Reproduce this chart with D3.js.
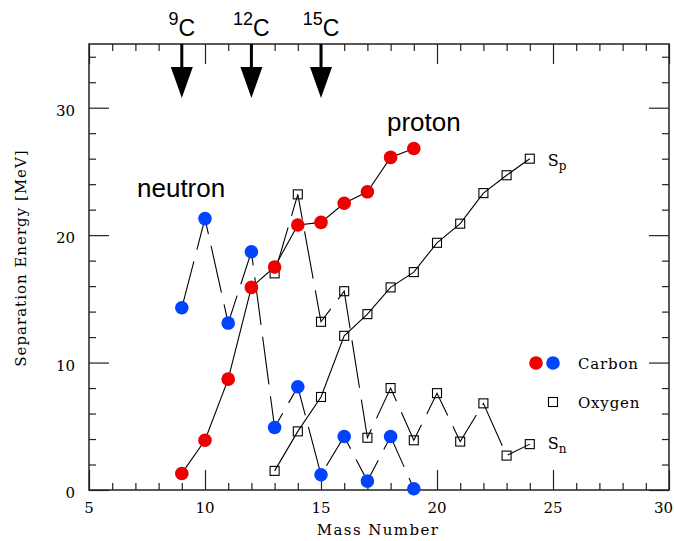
<!DOCTYPE html>
<html lang="en">
<head>
<meta charset="utf-8">
<title>Separation Energy</title>
<script src="https://d3js.org/d3.v7.min.js"></script>
<style>
  body { margin: 0; background: #fff; }
  .serif { font-family: "DejaVu Serif", serif; }
  .sans { font-family: "Liberation Sans", Arial, sans-serif; }
</style>
</head>
<body>
<script>
// data
var carbonMass = [9, 10, 11, 12, 13, 14, 15, 16, 17, 18, 19];
var carbonSp   = [1.3, 3.9, 8.7, 15.9, 17.5, 20.8, 21.0, 22.5, 23.4, 26.1, 26.8];
var carbonSn   = [14.3, 21.3, 13.1, 18.7, 4.9, 8.1, 1.2, 4.2, 0.7, 4.2, 0.1];

var oxygenMass = [13, 14, 15, 16, 17, 18, 19, 20, 21, 22, 23, 24];
var oxygenSp   = [1.5, 4.6, 7.3, 12.1, 13.8, 15.9, 17.1, 19.4, 20.9, 23.3, 24.7, 26.0];
var oxygenSn   = [17.0, 23.2, 13.2, 15.6, 4.1, 8.0, 3.9, 7.6, 3.8, 6.8, 2.7, 3.6];

var arrowMass  = [9, 12, 15];
var arrowLabel = ["9", "12", "15"];

var xMajor = [5, 10, 15, 20, 25, 30];
var yMajor = [0, 10, 20, 30];

var w = 674, h = 541;
// plot frame (window.top is read-only, so no bare "top")
var pL = 89, pR = 669, pT = 44, pB = 490;
var red = "#ee0000", blue = "#0044ff", ink = "#222";

var svg = d3.select("body").append("svg")
    .attr("width", w).attr("height", h);

var x = d3.scaleLinear().domain([5, 30]).range([pL, pR]);
var y = d3.scaleLinear().domain([0, 35]).range([pB, pT]);

var xMinor = d3.range(5, 31, 1).filter(function(d){ return d % 5 !== 0; });
var yMinor = d3.range(0, 36, 2).filter(function(d){ return d % 10 !== 0; });

// ticks, all pointing inward
function ticks(axis, tr, major, minor) {
    var g1 = svg.append("g").attr("transform", tr)
        .call(axis.tickValues(major).tickSize(-20).tickFormat(""));
    var g2 = svg.append("g").attr("transform", tr)
        .call(axis.tickValues(minor).tickSize(-7).tickFormat(""));
    [g1, g2].forEach(function(g){
        g.select(".domain").remove();
        g.selectAll("line").attr("stroke", ink).attr("stroke-width", 1.2);
    });
}
ticks(d3.axisBottom(x), "translate(0," + pB + ")", xMajor, xMinor);
ticks(d3.axisTop(x), "translate(0," + pT + ")", xMajor, xMinor);
ticks(d3.axisLeft(y), "translate(" + pL + ",0)", yMajor, yMinor);
ticks(d3.axisRight(y), "translate(" + pR + ",0)", yMajor, yMinor);

svg.append("rect")
    .attr("x", pL).attr("y", pT)
    .attr("width", pR - pL).attr("height", pB - pT)
    .attr("fill", "none").attr("stroke", ink).attr("stroke-width", 1.5);

// tick labels
svg.selectAll(".xl").data(xMajor).enter().append("text")
    .attr("class", "serif")
    .attr("x", function(d){ return d === 30 ? x(d) + 4 : x(d); })
    .attr("y", pB + 23)
    .attr("text-anchor", function(d){ return d === 30 ? "end" : "middle"; })
    .style("font-size", "15px")
    .text(function(d){ return d; });

svg.selectAll(".yl").data(yMajor).enter().append("text")
    .attr("class", "serif")
    .attr("x", pL - 14)
    .attr("y", function(d){ return y(d); })
    .attr("dy", "0.55em")
    .attr("text-anchor", "end")
    .style("font-size", "15px")
    .text(function(d){ return d; });

svg.append("text").attr("class", "serif")
    .attr("x", (pL + pR) / 2 - 1).attr("y", 535)
    .attr("text-anchor", "middle")
    .style("font-size", "15px").style("letter-spacing", "1.4px")
    .text("Mass Number");

svg.append("text").attr("class", "serif")
    .attr("transform", "translate(26,258) rotate(-90)")
    .attr("text-anchor", "middle")
    .style("font-size", "15px").style("letter-spacing", "1px")
    .text("Separation Energy [MeV]");

// lines
function pts(mass, vals) {
    return mass.map(function(m, i){ return [m, vals[i]]; });
}
var line = d3.line()
    .x(function(d){ return x(d[0]); })
    .y(function(d){ return y(d[1]); });

var series = [
    { p: pts(oxygenMass, oxygenSp), dash: null },
    { p: pts(oxygenMass, oxygenSn), dash: "48,12" },
    { p: pts(carbonMass, carbonSn), dash: "48,12" },
    { p: pts(carbonMass, carbonSp), dash: null }
];
svg.selectAll(".ln").data(series).enter().append("path")
    .attr("fill", "none").attr("stroke", "#000").attr("stroke-width", 1.1)
    .attr("stroke-dasharray", function(d){ return d.dash; })
    .attr("d", function(d){ return line(d.p); });

// oxygen squares (hollow)
var oxy = pts(oxygenMass, oxygenSp).concat(pts(oxygenMass, oxygenSn));
svg.selectAll(".sq").data(oxy).enter().append("rect")
    .attr("x", function(d){ return x(d[0]) - 4.5; })
    .attr("y", function(d){ return y(d[1]) - 4.5; })
    .attr("width", 9).attr("height", 9)
    .attr("fill", "none").attr("stroke", "#000").attr("stroke-width", 1.1);

// carbon dots
svg.selectAll(".bd").data(pts(carbonMass, carbonSn)).enter().append("circle")
    .attr("cx", function(d){ return x(d[0]); })
    .attr("cy", function(d){ return y(d[1]); })
    .attr("r", 6.8).attr("fill", blue);
svg.selectAll(".rd").data(pts(carbonMass, carbonSp)).enter().append("circle")
    .attr("cx", function(d){ return x(d[0]); })
    .attr("cy", function(d){ return y(d[1]); })
    .attr("r", 6.8).attr("fill", red);

// S_p and S_n labels next to the last oxygen points
function sLabel(sub, mass, val, dy) {
    var t = svg.append("text").attr("class", "serif")
        .attr("x", x(mass) + 18).attr("y", y(val) + dy)
        .style("font-size", "16px");
    t.append("tspan").text("S");
    t.append("tspan").attr("dy", 4).style("font-size", "12px").text(sub);
}
sLabel("p", oxygenMass[oxygenMass.length - 1], oxygenSp[oxygenSp.length - 1], 7);
sLabel("n", oxygenMass[oxygenMass.length - 1], oxygenSn[oxygenSn.length - 1], 5);

// neutron / proton labels
svg.append("text").attr("class", "sans")
    .attr("x", 137).attr("y", 197).style("font-size", "26px").text("neutron");
svg.append("text").attr("class", "sans")
    .attr("x", 387).attr("y", 131).style("font-size", "26px").text("proton");

// arrows with isotope labels
arrowMass.forEach(function(m, i){
    var ax = x(m);
    svg.append("line")
        .attr("x1", ax).attr("x2", ax).attr("y1", pT).attr("y2", pT + 26)
        .attr("stroke", "#000").attr("stroke-width", 3);
    svg.append("path")
        .attr("d", "M" + (ax - 11) + "," + (pT + 23) + "L" + (ax + 11) + "," + (pT + 23) +
                   "L" + ax + "," + (pT + 54) + "Z")
        .attr("fill", "#000");
    var t = svg.append("text").attr("class", "sans")
        .attr("x", ax).attr("y", 36).attr("text-anchor", "middle");
    t.append("tspan").attr("dy", -11).style("font-size", "18px").text(arrowLabel[i]);
    t.append("tspan").attr("dy", 11).style("font-size", "23px").text("C");
});

// legend
svg.append("circle").attr("cx", 536).attr("cy", 363).attr("r", 6.8).attr("fill", red);
svg.append("circle").attr("cx", 553).attr("cy", 363).attr("r", 6.8).attr("fill", blue);
svg.append("rect").attr("x", 548.5).attr("y", 397.5).attr("width", 9).attr("height", 9)
    .attr("fill", "none").attr("stroke", "#000").attr("stroke-width", 1.1);
svg.append("text").attr("class", "serif")
    .attr("x", 578).attr("y", 369).style("font-size", "15px").style("letter-spacing", "0.8px")
    .text("Carbon");
svg.append("text").attr("class", "serif")
    .attr("x", 578).attr("y", 408).style("font-size", "15px").style("letter-spacing", "0.8px")
    .text("Oxygen");
</script>
</body>
</html>
